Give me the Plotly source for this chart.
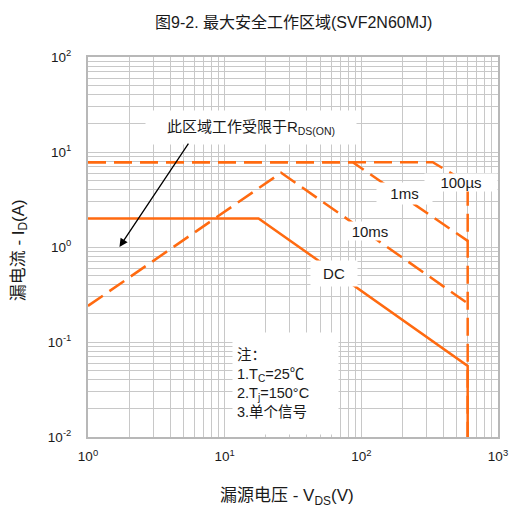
import plotly.graph_objects as go

# ---- data ----
dc_v = [1, 17.7, 600, 600]
dc_i = [2.0, 2.0, 0.056, 0.01]

ms10_v = [1, 25.9, 600]
ms10_i = [0.24, 6.05, 0.255]

ms1_v = [1, 86.5, 600]
ms1_i = [7.8, 7.8, 1.16]

us100_v = [1, 333, 600, 600]
us100_i = [7.8, 7.8, 4.7, 0.01]

x_tick_vals = [1, 10, 100, 1000]
x_tick_text = ["10<sup>0</sup>", "10<sup>1</sup>", "10<sup>2</sup>", "10<sup>3</sup>"]
y_tick_vals = [0.01, 0.1, 1, 10, 100]
y_tick_text = ["10<sup>-2</sup>", "10<sup>-1</sup>", "10<sup>0</sup>", "10<sup>1</sup>", "10<sup>2</sup>"]

ORANGE = "#FF6A10"
GRID = "#C8C8C8"
FONT = "Liberation Sans, Arial, Noto Sans CJK SC"
TXT = "#1a1a1a"
DASH = "18px,8px"

fig = go.Figure()
fig.add_trace(go.Scatter(x=us100_v, y=us100_i, mode="lines",
                         line=dict(color=ORANGE, width=2.5, dash=DASH), name="100µs"))
fig.add_trace(go.Scatter(x=ms1_v, y=ms1_i, mode="lines",
                         line=dict(color=ORANGE, width=2.5, dash=DASH), name="1ms"))
fig.add_trace(go.Scatter(x=ms10_v, y=ms10_i, mode="lines",
                         line=dict(color=ORANGE, width=2.5, dash=DASH), name="10ms"))
fig.add_trace(go.Scatter(x=dc_v, y=dc_i, mode="lines",
                         line=dict(color=ORANGE, width=2.5), name="DC"))

minor_x = [m * 10 ** d for d in range(0, 3) for m in range(2, 10)]
minor_y = [m * 10 ** d for d in range(-2, 2) for m in range(2, 10)]

fig.update_xaxes(type="log", range=[0, 3], tickvals=x_tick_vals, ticktext=x_tick_text,
                 showgrid=True, gridcolor=GRID, gridwidth=1.3,
                 minor=dict(tickvals=minor_x, showgrid=True, gridcolor=GRID, gridwidth=1.3),
                 showline=True, linecolor="#B8B8B8", linewidth=2, mirror=True,
                 ticks="", ticklabelstandoff=6, zeroline=False, automargin=False,
                 tickfont=dict(family=FONT, size=13.5, color=TXT))
fig.update_yaxes(type="log", range=[-2, 2], tickvals=y_tick_vals, ticktext=y_tick_text,
                 showgrid=True, gridcolor=GRID, gridwidth=1.3,
                 minor=dict(tickvals=minor_y, showgrid=True, gridcolor=GRID, gridwidth=1.3),
                 showline=True, linecolor="#B8B8B8", linewidth=2, mirror=True,
                 ticks="", ticklabelstandoff=12, zeroline=False, automargin=False,
                 tickfont=dict(family=FONT, size=13.5, color=TXT))

def lab(text, lx, ly, w, h, size=15):
    # lx, ly are positions in log10 axis units
    fig.add_annotation(text=text, x=lx, y=ly, xref="x", yref="y",
                       showarrow=False, bgcolor="white", width=w, height=h,
                       align="center", valign="middle", borderpad=0,
                       font=dict(family=FONT, size=size, color=TXT))

# curve labels with white boxes
lab("100µs", 2.732, 0.684, 72, 17)
lab("1ms", 2.315, 0.568, 55, 21)
lab("10ms", 2.066, 0.168, 48, 18)
lab("DC", 1.803, -0.284, 46, 25)
lab("此区域工作受限于R<sub>DS(ON)</sub>", 1.196, 1.253, 210, 33)

# arrow
fig.add_annotation(x=0.230, y=0.0, ax=0.742, ay=1.105,
                   xref="x", yref="y", axref="x", ayref="y", text="", showarrow=True,
                   arrowhead=2, arrowsize=1.3, arrowwidth=1.3, arrowcolor="black")

# note box
fig.add_annotation(text="注：<br>1.T<sub>C</sub>=25℃<br>2.T<sub>j</sub>=150°C<br>3.单个信号",
                   x=1.057, y=-1.437, xref="x", yref="y",
                   xanchor="left", showarrow=False, bgcolor="white", width=97, height=93,
                   align="left", borderpad=4, font=dict(family=FONT, size=14.5, color=TXT))

# title & axis titles
fig.add_annotation(text="图9-2. 最大安全工作区域(SVF2N60MJ)", x=0.5, y=1.092,
                   xref="paper", yref="paper", showarrow=False,
                   xanchor="center", yanchor="middle",
                   font=dict(family=FONT, size=16, color=TXT))
fig.add_annotation(text="漏源电压 - V<sub>DS</sub>(V)", x=0.485, y=-0.158,
                   xref="paper", yref="paper", showarrow=False,
                   xanchor="center", yanchor="middle",
                   font=dict(family=FONT, size=17, color=TXT))
fig.add_annotation(text="漏电流 - I<sub>D</sub>(A)", x=-0.167, y=0.49,
                   xref="paper", yref="paper", showarrow=False, textangle=-90,
                   xanchor="center", yanchor="middle",
                   font=dict(family=FONT, size=17, color=TXT))

fig.update_layout(width=511, height=513, showlegend=False,
                  margin=dict(l=88, r=13, t=57, b=76, autoexpand=False),
                  plot_bgcolor="white", paper_bgcolor="white")

fig.write_html("out.html", config={"displayModeBar": False},
               post_script="document.body.style.margin='0';document.body.style.overflow='hidden';")
